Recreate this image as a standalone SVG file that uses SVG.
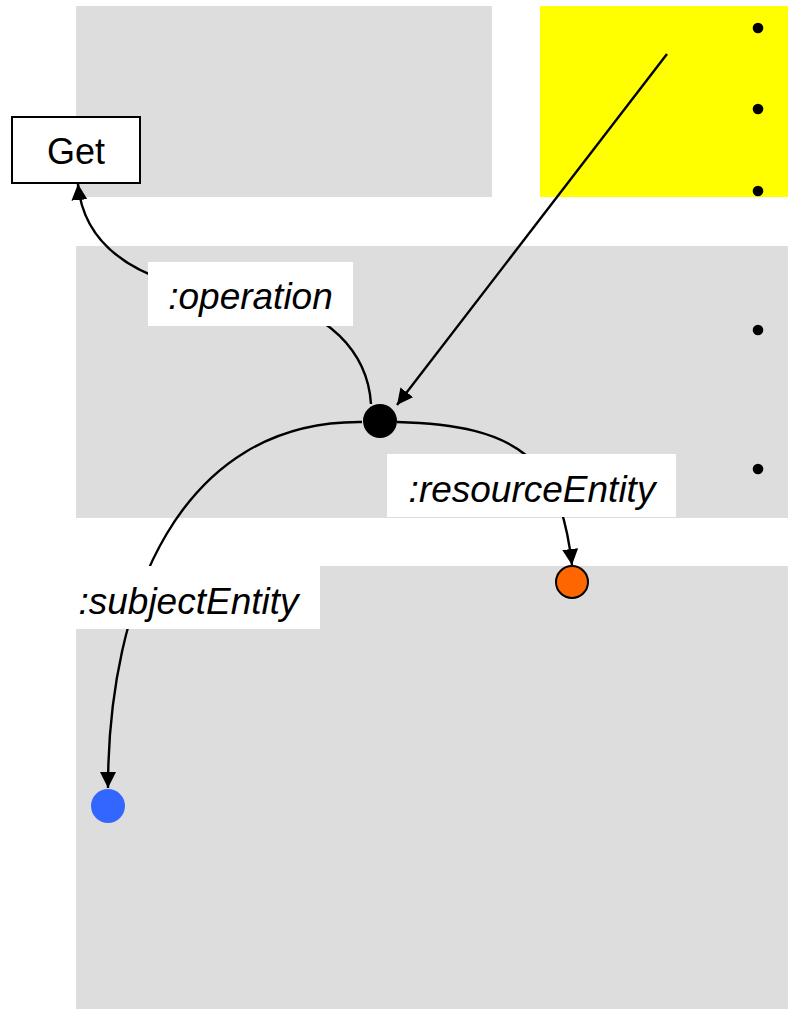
<svg xmlns="http://www.w3.org/2000/svg" width="788" height="1009" viewBox="0 0 788 1009">
  <style>
    .panel { fill: #DDDDDD; }
    .edge { fill: none; stroke: #000; stroke-width: 2.4; }
    .lbl-bg { fill: #FFFFFF; }
    .lbl { font-family: "Liberation Sans", Arial, sans-serif; font-size: 37px; font-style: italic; fill: #000; text-anchor: middle; }
    .bullet { fill: #000; }
  </style>
  <defs>
    <marker id="arrow" viewBox="0 0 17 17" refX="16" refY="8.5" markerWidth="17" markerHeight="17" markerUnits="userSpaceOnUse" orient="auto">
      <path d="M0,0.5 L16,8.5 L0,16.5 z" fill="#000"/>
    </marker>
  </defs>

  <g id="panels">
    <rect class="panel" x="76" y="6" width="416" height="191"/>
    <rect x="540" y="6" width="248" height="191" fill="#FFFF00"/>
    <rect class="panel" x="76" y="246" width="712" height="272"/>
    <rect class="panel" x="76" y="566" width="712" height="443"/>
  </g>

  <g id="bullets">
    <circle class="bullet" cx="758" cy="28" r="5.3"/>
    <circle class="bullet" cx="758" cy="109" r="5.3"/>
    <circle class="bullet" cx="758" cy="191" r="5.3"/>
    <circle class="bullet" cx="758" cy="330" r="5.3"/>
    <circle class="bullet" cx="758" cy="469" r="5.3"/>
  </g>

  <g id="node-get">
    <rect x="12" y="117" width="128" height="66" fill="#FFFFFF" stroke="#000" stroke-width="2"/>
    <text x="76" y="164" font-family="'Liberation Sans', Arial, sans-serif" font-size="36" text-anchor="middle" fill="#000">Get</text>
  </g>

  <g id="connectors">
    <path class="edge" d="M371,404 C368,355 330,306 250,298 C170,290 85,265 78,184" marker-end="url(#arrow)"/>
    <path class="edge" d="M667,54 L397,405" marker-end="url(#arrow)"/>
    <path class="edge" d="M362,422 C180,420 108,600 108,788" marker-end="url(#arrow)"/>
    <path class="edge" d="M397,422 C520,425 560,460 572,565" marker-end="url(#arrow)"/>
  </g>

  <g id="label-operation">
    <rect class="lbl-bg" x="148" y="262" width="205" height="64"/>
    <text class="lbl" x="250.5" y="309">:operation</text>
  </g>
  <g id="label-resourceEntity">
    <rect class="lbl-bg" x="387" y="454" width="289" height="63"/>
    <text class="lbl" x="532" y="502">:resourceEntity</text>
  </g>
  <g id="label-subjectEntity">
    <rect class="lbl-bg" x="57" y="566" width="263" height="63"/>
    <text class="lbl" x="188.5" y="614">:subjectEntity</text>
  </g>

  <g id="node-blank">
    <circle cx="380" cy="421" r="17" fill="#000"/>
  </g>
  <g id="node-resource">
    <circle cx="572" cy="582" r="16" fill="#FF6600" stroke="#000" stroke-width="2"/>
  </g>
  <g id="node-subject">
    <circle cx="108" cy="806" r="17" fill="#3366FF"/>
  </g>
</svg>
